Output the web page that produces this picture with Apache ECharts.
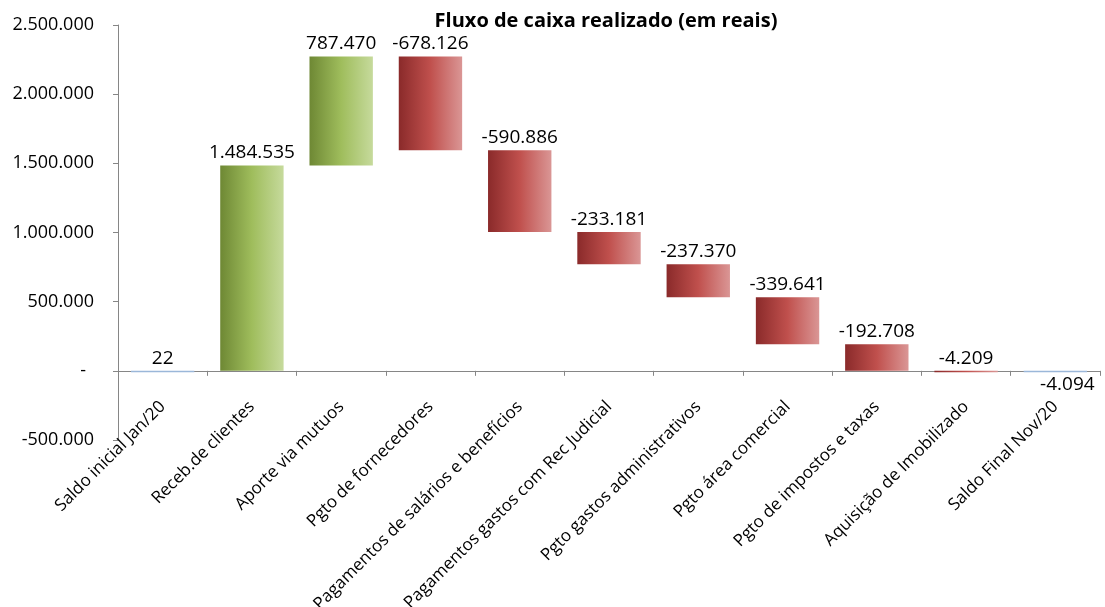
<!DOCTYPE html>
<html>
<head>
<meta charset="utf-8">
<script src="https://cdn.jsdelivr.net/npm/echarts@6/dist/echarts.min.js"></script>
<style>
  html, body { margin: 0; padding: 0; background: #fff; }
  #chart { width: 1105px; height: 607px; }
</style>
</head>
<body>
<div id="chart"></div>
<script>
// categorias do fluxo
var categories = ['Saldo inicial Jan/20', 'Receb.de clientes', 'Aporte via mutuos', 'Pgto de fornecedores',
  'Pagamentos de salários e benefícios', 'Pagamentos gastos com Rec Judicial', 'Pgto gastos administrativos',
  'Pgto área comercial', 'Pgto de impostos e taxas', 'Aquisição de Imobilizado', 'Saldo Final Nov/20'];
// valores (saldo inicial, movimentos, saldo final)
var values = [22, 1484535, 787470, -678126, -590886, -233181, -237370, -339641, -192708, -4209, -4094];
var kinds = ['total', 'flow', 'flow', 'flow', 'flow', 'flow', 'flow', 'flow', 'flow', 'flow', 'total'];

var yTicks = { min: -500000, max: 2500000, interval: 500000 };

function fmt(v) {
  var s = Math.abs(v).toString().replace(/\B(?=(\d{3})+(?!\d))/g, '.');
  return (v < 0 ? '-' : '') + s;
}

// monta as barras flutuantes
var running = 0;
var barData = values.map(function (v, i) {
  var start, end;
  if (kinds[i] === 'total') {
    start = 0; end = v; running = v;
  } else {
    start = running; end = running + v; running = end;
  }
  return [i, Math.min(start, end), Math.max(start, end), v, kinds[i] === 'total' ? 0 : 1];
});

var font = '"Open Sans", "Noto Sans", sans-serif';

var greenGrad = new echarts.graphic.LinearGradient(0, 0, 1, 0, [
  { offset: 0, color: '#6e8834' }, { offset: 0.5, color: '#9fbd5c' }, { offset: 1, color: '#c6da9c' }]);
var redGrad = new echarts.graphic.LinearGradient(0, 0, 1, 0, [
  { offset: 0, color: '#8a2a2a' }, { offset: 0.5, color: '#c0504d' }, { offset: 1, color: '#da9695' }]);

function renderItem(params, api) {
  var idx = api.value(0);
  var lo = api.value(1), hi = api.value(2), v = api.value(3), flow = api.value(4);
  var pTop = api.coord([idx, hi]);
  var pBot = api.coord([idx, lo]);
  var w = api.size([1, 0])[0] * 0.71;
  var h = Math.max(pBot[1] - pTop[1], 1.5);
  var fill = flow ? (v >= 0 ? greenGrad : redGrad) : '#9bb7d9';
  var last = idx === categories.length - 1;
  return {
    type: 'group',
    children: [
      { type: 'rect', shape: { x: pTop[0] - w / 2, y: pTop[1], width: w, height: h }, style: { fill: fill } },
      { type: 'text', x: last ? pTop[0] + 12 : pTop[0], y: last ? pTop[1] + 4 : pTop[1] - 3,
        style: { text: fmt(v), align: 'center', verticalAlign: last ? 'top' : 'bottom',
          fontSize: 19, fontFamily: font, fill: '#000' } }
    ]
  };
}

var chart = echarts.init(document.getElementById('chart'));
chart.setOption({
  animation: false,
  title: {
    text: 'Fluxo de caixa realizado (em reais)',
    left: 601, top: 6, textAlign: 'center',
    textStyle: { fontFamily: font, fontSize: 20, fontWeight: 'bold', color: '#000' }
  },
  grid: { left: 118, right: 5, top: 25, bottom: 167, containLabel: false, outerBoundsMode: 'none' },
  xAxis: {
    type: 'category',
    data: categories,
    axisLine: { lineStyle: { color: '#868686' } },
    axisTick: { show: true, length: 5, lineStyle: { color: '#868686' } },
    axisLabel: { rotate: 45, interval: 0, margin: -36, fontSize: 17, fontFamily: font, color: '#000' }
  },
  yAxis: {
    type: 'value',
    min: yTicks.min, max: yTicks.max, interval: yTicks.interval,
    splitLine: { show: false },
    axisLine: { show: true, lineStyle: { color: '#868686' } },
    axisTick: { show: true, length: 5, lineStyle: { color: '#868686' } },
    axisLabel: {
      fontSize: 18, fontFamily: font, color: '#000', margin: 24,
      formatter: function (v) { return v === 0 ? '{z|-}' : fmt(v); },
      rich: { z: { fontSize: 18, fontFamily: font, color: '#000', padding: [0, 8, 0, 0] } }
    }
  },
  series: [{
    type: 'custom',
    renderItem: renderItem,
    encode: { x: 0, y: [1, 2] },
    data: barData
  }]
});
</script>
</body>
</html>
